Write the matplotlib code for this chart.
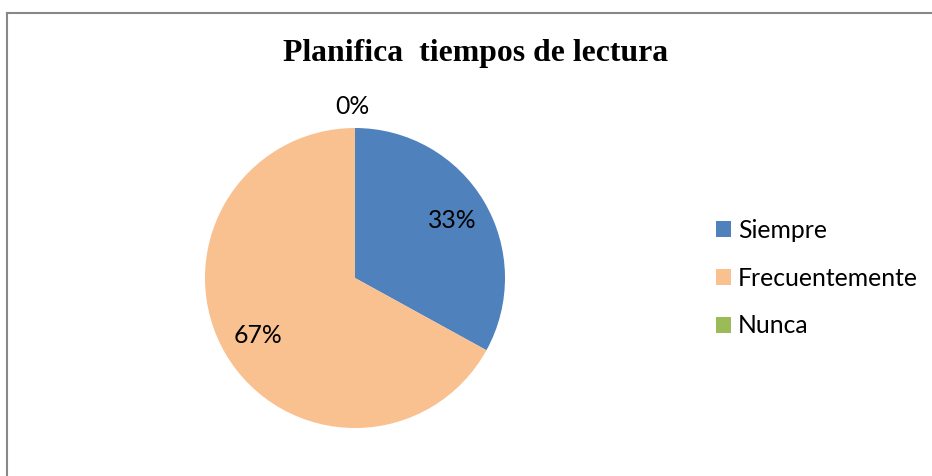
import numpy as np
import matplotlib.pyplot as plt
from matplotlib.lines import Line2D

categories = ['Siempre', 'Frecuentemente', 'Nunca']
values = [33, 67, 0]
colors = ['#4F81BD', '#F9C090', '#9BBB59']
title = 'Planifica  tiempos de lectura'

W, H = 932, 476
fig = plt.figure(figsize=(W / 100, H / 100), dpi=100)

# chart border (only top and left edges visible in the crop)
fig.add_artist(Line2D([6.5 / W, 6.5 / W], [0, 1 - 12.5 / H], color='#888888', lw=1.5))
fig.add_artist(Line2D([6.5 / W, 1], [1 - 12.5 / H, 1 - 12.5 / H], color='#888888', lw=1.5))

fig.text(475.5 / W, 1 - 53 / H, title, ha='center', va='center',
         fontsize=22.9, fontweight='bold', family='Liberation Serif')

# pie: center (355, 278), radius 150 px
ax = fig.add_axes([205 / W, 1 - 428 / H, 300 / W, 300 / H])
wedges, texts = ax.pie(values, colors=colors, startangle=90, counterclock=False,
                       radius=1, wedgeprops=dict(linewidth=0))
ax.set_xlim(-1, 1)
ax.set_ylim(-1, 1)
ax.set_aspect('equal')
ax.axis('off')

lab_font = {'family': 'Lato', 'size': 17.8}
total = sum(values)
for w, v in zip(wedges, values):
    ang = np.deg2rad((w.theta1 + w.theta2) / 2)
    r = 0.755 if v > 0 else 1.145
    ax.text(r * np.cos(ang) - (0.02 if v == 0 else 0), r * np.sin(ang),
            f'{round(100 * v / total)}%', ha='center', va='center',
            fontdict=lab_font, clip_on=False)

leg = fig.legend(wedges, categories, loc='center left',
                 bbox_to_anchor=(716 / W, 1 - 278 / H), frameon=False,
                 prop=lab_font,
                 handlelength=0.62, handleheight=0.62, handletextpad=0.28,
                 labelspacing=1.0, borderpad=0, borderaxespad=0)

fig.savefig('out.png', dpi=100, facecolor='white')
